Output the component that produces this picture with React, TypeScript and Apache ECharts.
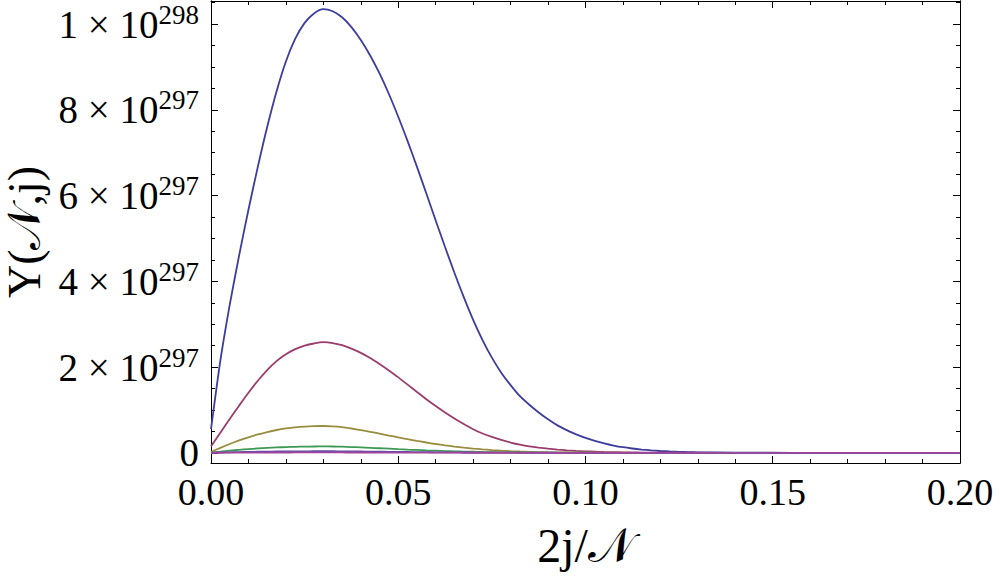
import React, { useEffect, useRef } from "react";
import * as echarts from "echarts";

// x positions (2j/N)
const xs = [
  0, 0.0025, 0.005, 0.0075, 0.01, 0.0125, 0.015, 0.0175, 0.02, 0.0225, 0.025, 0.0275, 0.03, 0.0325, 0.035, 0.0375,
  0.04, 0.0425, 0.045, 0.0475, 0.05, 0.0525, 0.055, 0.0575, 0.06, 0.0625, 0.065, 0.0675, 0.07, 0.0725, 0.075, 0.0775,
  0.08, 0.0825, 0.085, 0.0875, 0.09, 0.0925, 0.095, 0.0975, 0.1, 0.1025, 0.105, 0.1075, 0.11, 0.1125, 0.115, 0.1175,
  0.12, 0.1225, 0.125, 0.1275, 0.13, 0.14, 0.15, 0.16, 0.17, 0.18, 0.19, 0.2,
];

// Y values in units of 1e297
const seriesA = [
  0.55, 2.15, 3.45, 4.6, 5.67, 6.67, 7.6, 8.43, 9.13, 9.66, 10.03, 10.25, 10.35, 10.3, 10.16, 9.93,
  9.63, 9.27, 8.85, 8.37, 7.84, 7.27, 6.67, 6.05, 5.42, 4.8, 4.2, 3.63, 3.1, 2.63, 2.22, 1.87,
  1.58, 1.32, 1.12, 0.94, 0.78, 0.64, 0.53, 0.43, 0.35, 0.28, 0.22, 0.17, 0.13, 0.1, 0.076, 0.057,
  0.042, 0.031, 0.023, 0.017, 0.012, 0.004, 0.001, 0.0003, 0, 0, 0, 0,
];
const seriesB = [
  0.15, 0.47, 0.79, 1.1, 1.4, 1.68, 1.93, 2.14, 2.3, 2.42, 2.5, 2.55, 2.58, 2.56, 2.51, 2.43,
  2.33, 2.21, 2.07, 1.92, 1.76, 1.59, 1.42, 1.25, 1.09, 0.94, 0.8, 0.67, 0.55, 0.45, 0.37, 0.3,
  0.24, 0.19, 0.15, 0.12, 0.095, 0.075, 0.058, 0.045, 0.035, 0.027, 0.02, 0.015, 0.011, 0.008, 0.006, 0.0045,
  0.0033, 0.0024, 0.0017, 0.0012, 0.0008, 0.0002, 0, 0, 0, 0, 0, 0,
];
const seriesC = [
  0.02, 0.115, 0.205, 0.288, 0.362, 0.428, 0.485, 0.532, 0.568, 0.594, 0.611, 0.621, 0.625, 0.618, 0.6, 0.567,
  0.53, 0.49, 0.447, 0.403, 0.36, 0.318, 0.277, 0.24, 0.205, 0.174, 0.146, 0.121, 0.099, 0.08, 0.064, 0.05,
  0.039, 0.03, 0.023, 0.017, 0.0125, 0.009, 0.0065, 0.0046, 0.0032, 0.0022, 0.0015, 0.001, 0.0007, 0.0005, 0.0003, 0.0002,
  0.0001, 0, 0, 0, 0, 0, 0, 0, 0, 0, 0, 0,
];
const seriesD = [
  0.005, 0.028, 0.05, 0.069, 0.086, 0.101, 0.114, 0.125, 0.134, 0.14, 0.144, 0.147, 0.148, 0.1465, 0.142, 0.134,
  0.126, 0.116, 0.106, 0.096, 0.085, 0.075, 0.066, 0.057, 0.049, 0.041, 0.035, 0.029, 0.024, 0.019, 0.015, 0.012,
  0.0093, 0.0071, 0.0054, 0.004, 0.003, 0.0022, 0.0015, 0.0011, 0.0008, 0.0005, 0.0004, 0.0002, 0.0001, 0, 0, 0,
  0, 0, 0, 0, 0, 0, 0, 0, 0, 0, 0, 0,
];
const seriesE = [
  0.001, 0.007, 0.012, 0.017, 0.021, 0.0245, 0.0277, 0.0304, 0.0326, 0.034, 0.035, 0.0357, 0.036, 0.0356, 0.0345, 0.0326,
  0.0306, 0.0282, 0.0258, 0.0233, 0.0207, 0.0182, 0.016, 0.0139, 0.0119, 0.01, 0.0085, 0.007, 0.0058, 0.0046, 0.0036, 0.0029,
  0.0023, 0.0017, 0.0013, 0.001, 0.0007, 0.0005, 0.0004, 0.0003, 0.0002, 0.0001, 0.0001, 0, 0, 0, 0, 0,
  0, 0, 0, 0, 0, 0, 0, 0, 0, 0, 0, 0,
];
const seriesF = [
  0, 0.0015, 0.0028, 0.0039, 0.0048, 0.0056, 0.0063, 0.0069, 0.0073, 0.0076, 0.0078, 0.0079, 0.008, 0.0079, 0.0077, 0.0073,
  0.0068, 0.0063, 0.0057, 0.0052, 0.0046, 0.004, 0.0035, 0.003, 0.0026, 0.0022, 0.0019, 0.0016, 0.0013, 0.001, 0.0008, 0.0006,
  0.0005, 0.0004, 0.0003, 0.0002, 0.0002, 0.0001, 0.0001, 0, 0, 0, 0, 0, 0, 0, 0, 0,
  0, 0, 0, 0, 0, 0, 0, 0, 0, 0, 0, 0,
];

const allSeries = [seriesA, seriesB, seriesC, seriesD, seriesE, seriesF];
const colors = ["#3d3d9e", "#9b3d6c", "#9a8c3d", "#3d9a55", "#5a4fa8", "#a1449b"];

// axis ticks
const yMajorTicks = [0, 2, 4, 6, 8, 10];
const yMinorTicks = [0.5, 1, 1.5, 2.5, 3, 3.5, 4.5, 5, 5.5, 6.5, 7, 7.5, 8.5, 9, 9.5, 10.5];
const yLabelText: Record<number, [string, string]> = {
  0: ["0", ""],
  2: ["2 × 10", "297"],
  4: ["4 × 10", "297"],
  6: ["6 × 10", "297"],
  8: ["8 × 10", "297"],
  10: ["1 × 10", "298"],
};

const FONT = "'Liberation Serif', 'Times New Roman', serif";
const Y_MIN = -0.238;
const Y_MAX = 10.54;

export default function App() {
  const ref = useRef<HTMLDivElement>(null);
  useEffect(() => {
    if (!ref.current) return;
    const chart = echarts.init(ref.current, null, { renderer: "svg" });
    const xBase = {
      type: "value",
      min: 0,
      max: 0.2,
      interval: 0.05,
      splitLine: { show: false },
      axisLine: { show: true, onZero: false, lineStyle: { color: "#000", width: 1 } },
      axisTick: { show: true, inside: true, length: 7, lineStyle: { color: "#000" } },
      minorTick: { show: true, splitNumber: 5, length: 4, lineStyle: { color: "#000" } },
    };
    const yBase = {
      type: "value",
      min: Y_MIN,
      max: Y_MAX,
      splitLine: { show: false },
      axisLine: { show: true, onZero: false, lineStyle: { color: "#000", width: 1 } },
    };
    const option = {
      animation: false,
      backgroundColor: "#fff",
      grid: { left: 211, right: 40, top: 1, bottom: 118, containLabel: false, outerBoundsMode: "none" },
      xAxis: [
        {
          ...xBase,
          position: "bottom",
          name: "2j/𝒩",
          nameLocation: "middle",
          nameGap: 58,
          nameTextStyle: { fontFamily: FONT, fontSize: 48, color: "#000" },
          axisLabel: {
            show: true,
            margin: 10,
            fontFamily: FONT,
            fontSize: 38,
            color: "#000",
            formatter: (v: number) => v.toFixed(2),
          },
        },
        { ...xBase, position: "top", axisLabel: { show: false } },
      ],
      yAxis: [
        {
          ...yBase,
          position: "left",
          name: "Y(𝒩,j)",
          nameLocation: "middle",
          nameGap: 156,
          nameTextStyle: { fontFamily: FONT, fontSize: 46, color: "#000" },
          axisTick: { show: true, inside: true, length: 7, customValues: yMajorTicks, lineStyle: { color: "#000" } },
          axisLabel: {
            show: true,
            margin: 12,
            customValues: yMajorTicks,
            formatter: (v: number) => {
              const key = Math.round(v);
              const t = yLabelText[key];
              if (!t) return "";
              return t[1] ? `{b|${t[0]}}{s|${t[1]}}` : `{z|${t[0]}}`;
            },
            rich: {
              b: { fontFamily: FONT, fontSize: 39, color: "#000", lineHeight: 46 },
              s: { fontFamily: FONT, fontSize: 27, color: "#000", lineHeight: 24, verticalAlign: "top" },
              z: { fontFamily: FONT, fontSize: 39, color: "#000", lineHeight: 24 },
            },
          },
        },
        {
          ...yBase,
          position: "right",
          axisTick: { show: true, inside: true, length: 7, customValues: yMajorTicks, lineStyle: { color: "#000" } },
          axisLabel: { show: false },
        },
        {
          ...yBase,
          position: "left",
          axisTick: { show: true, inside: true, length: 4, customValues: yMinorTicks, lineStyle: { color: "#000" } },
          axisLabel: { show: false },
        },
        {
          ...yBase,
          position: "right",
          axisTick: { show: true, inside: true, length: 4, customValues: yMinorTicks, lineStyle: { color: "#000" } },
          axisLabel: { show: false },
        },
      ],
      series: allSeries.map((arr, i) => ({
        type: "line",
        xAxisIndex: 0,
        yAxisIndex: 0,
        showSymbol: false,
        smooth: 0.25,
        lineStyle: { color: colors[i], width: 1.8 },
        data: xs.map((x, j) => [x, arr[j]]),
      })),
    };
    chart.setOption(option as any);
    return () => chart.dispose();
  }, []);
  return (
    <div
      ref={ref}
      style={{ position: "absolute", left: 0, top: 0, width: 1000, height: 581, background: "#fff" }}
    />
  );
}
